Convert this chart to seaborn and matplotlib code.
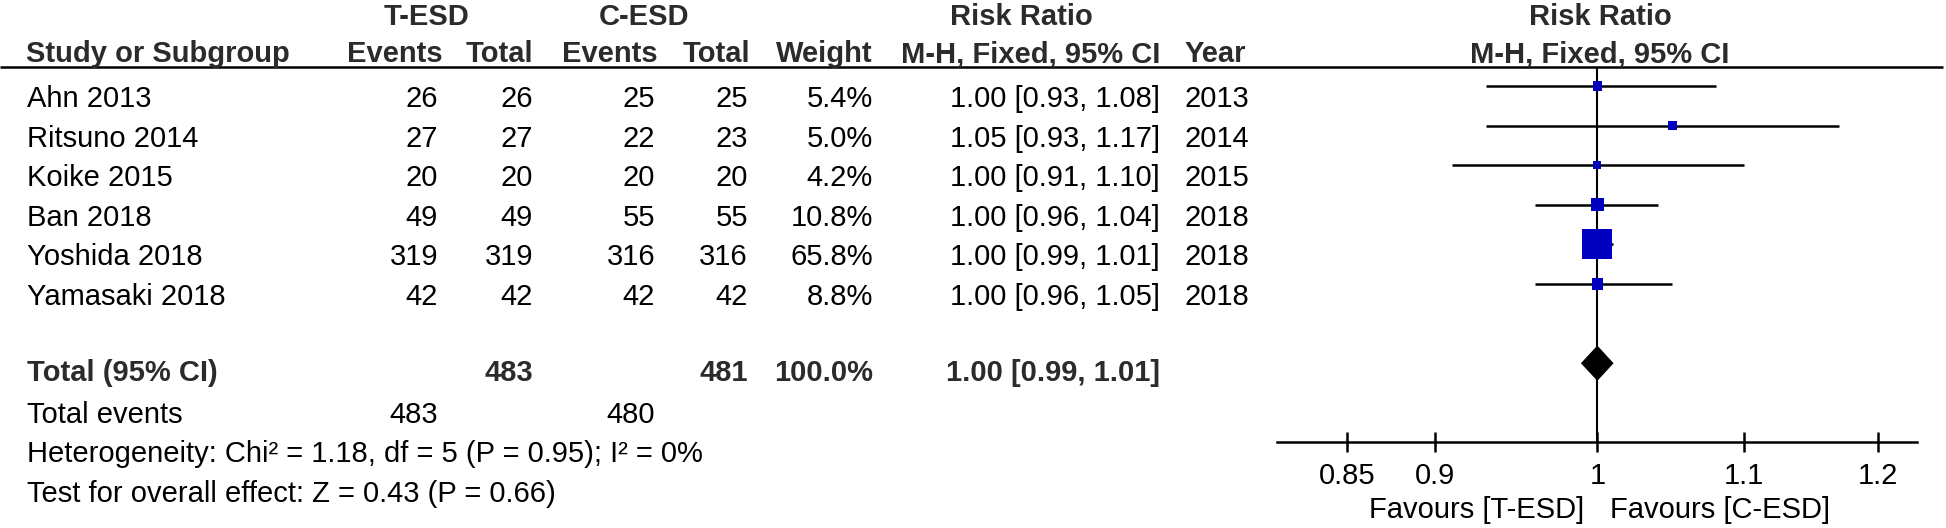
import matplotlib
matplotlib.use("Agg")
import matplotlib.pyplot as plt
import seaborn as sns
import pandas as pd
from matplotlib.ticker import FixedLocator, FixedFormatter, NullLocator

# study data
studies = ["Ahn 2013", "Ritsuno 2014", "Koike 2015", "Ban 2018", "Yoshida 2018", "Yamasaki 2018"]
t_events = [26, 27, 20, 49, 319, 42]
t_total = [26, 27, 20, 49, 319, 42]
c_events = [25, 22, 20, 55, 316, 42]
c_total = [25, 23, 20, 55, 316, 42]
weight = [5.4, 5.0, 4.2, 10.8, 65.8, 8.8]
rr = [1.00, 1.05, 1.00, 1.00, 1.00, 1.00]
ci_lo = [0.93, 0.93, 0.91, 0.96, 0.99, 0.96]
ci_hi = [1.08, 1.17, 1.10, 1.04, 1.01, 1.05]
years = [2013, 2014, 2015, 2018, 2018, 2018]

# pooled result
total_t, total_c = 483, 481
events_t, events_c = 483, 480
pooled_rr, pooled_lo, pooled_hi = 1.00, 0.99, 1.01
heterogeneity = "Heterogeneity: Chi² = 1.18, df = 5 (P = 0.95); I² = 0%"
overall = "Test for overall effect: Z = 0.43 (P = 0.66)"

tick_vals = [0.85, 0.9, 1, 1.1, 1.2]
tick_labels = ["0.85", "0.9", "1", "1.1", "1.2"]

df = pd.DataFrame({"study": studies, "rr": rr, "lo": ci_lo, "hi": ci_hi,
                   "weight": weight, "row": range(len(studies))})

sns.set_style("white")
plt.rcParams["font.family"] = ["Liberation Sans", "DejaVu Sans"]
FS = 21

W, H = 1946, 528
fig = plt.figure(figsize=(W / 100, H / 100), dpi=100)
ylim = (11.16, -2.17)

# table axes: x in pixels, y in rows
ax = fig.add_axes([0, 0, 1, 1])
ax.set_xlim(0, W)
ax.set_ylim(*ylim)
ax.axis("off")

def put(x, row, s, ha="right", bold=False):
    ax.text(x, row, s, ha=ha, va="baseline", fontsize=FS,
            fontweight="bold" if bold else "normal",
            color="#2b2b2b" if bold else "black")

# headers
put(427, -1.54, "T-ESD", ha="center", bold=True)
put(644, -1.54, "C-ESD", ha="center", bold=True)
put(1021, -1.54, "Risk Ratio", ha="center", bold=True)
put(1600, -1.54, "Risk Ratio", ha="center", bold=True)
put(26, -0.6, "Study or Subgroup", ha="left", bold=True)
put(443, -0.6, "Events", bold=True)
put(533, -0.6, "Total", bold=True)
put(658, -0.6, "Events", bold=True)
put(750, -0.6, "Total", bold=True)
put(873, -0.6, "Weight", bold=True)
put(1160, -0.6, "M-H, Fixed, 95% CI", bold=True)
put(1185, -0.6, "Year", ha="left", bold=True)
put(1600, -0.6, "M-H, Fixed, 95% CI", ha="center", bold=True)
ax.hlines(-0.48, 0, 1943, color="black", lw=1.8)

# study rows
for i in range(len(studies)):
    y = i + 0.53
    put(27, y, studies[i], ha="left")
    put(438, y, str(t_events[i]))
    put(533, y, str(t_total[i]))
    put(655, y, str(c_events[i]))
    put(748, y, str(c_total[i]))
    put(873, y, f"{weight[i]:.1f}%")
    put(1160, y, f"{rr[i]:.2f} [{ci_lo[i]:.2f}, {ci_hi[i]:.2f}]")
    put(1185, y, str(years[i]), ha="left")

# totals
put(27, 7.45, "Total (95% CI)", ha="left", bold=True)
put(533, 7.45, str(total_t), bold=True)
put(748, 7.45, str(total_c), bold=True)
put(873, 7.45, "100.0%", bold=True)
put(1160, 7.45, f"{pooled_rr:.2f} [{pooled_lo:.2f}, {pooled_hi:.2f}]", bold=True)
put(27, 8.51, "Total events", ha="left")
put(438, 8.51, str(events_t))
put(655, 8.51, str(events_c))
put(27, 9.5, heterogeneity, ha="left")
put(27, 10.5, overall, ha="left")
put(1584, 10.9, "Favours [T-ESD]")
put(1610, 10.9, "Favours [C-ESD]", ha="left")

# forest axes, log scale
axf = fig.add_axes([1277 / W, 0, 640 / W, 1])
axf.set_xscale("log")
axf.set_xlim(0.812, 1.231)
axf.set_ylim(*ylim)
axf.patch.set_alpha(0)
for s in ["top", "left", "right"]:
    axf.spines[s].set_visible(False)
axf.spines["bottom"].set_position(("data", 9))
axf.spines["bottom"].set_linewidth(1.8)
axf.spines["bottom"].set_color("black")
axf.xaxis.set_major_locator(FixedLocator(tick_vals))
axf.xaxis.set_major_formatter(FixedFormatter(tick_labels))
axf.xaxis.set_minor_locator(NullLocator())
axf.tick_params(axis="x", which="major", bottom=True, direction="inout",
                length=13.7, width=1.8, pad=7.5, labelsize=FS, colors="black")
axf.set_yticks([])

axf.vlines(1, -0.48, 9, color="black", lw=1.5)
axf.hlines(df["row"], df["lo"], df["hi"], color="black", lw=1.8)
sns.scatterplot(data=df, x="rr", y="row", size="weight", sizes=(36, 467),
                size_norm=(4.2, 65.8), marker="s", color="#0000c0",
                edgecolor="none", linewidth=0, legend=False, ax=axf, zorder=3)
h = 0.42
axf.fill([pooled_lo, pooled_rr, pooled_hi, pooled_rr], [7, 7 - h, 7, 7 + h],
         color="black", zorder=3)
axf.set_xlabel("")
axf.set_ylabel("")

fig.savefig("out.png", dpi=100)
